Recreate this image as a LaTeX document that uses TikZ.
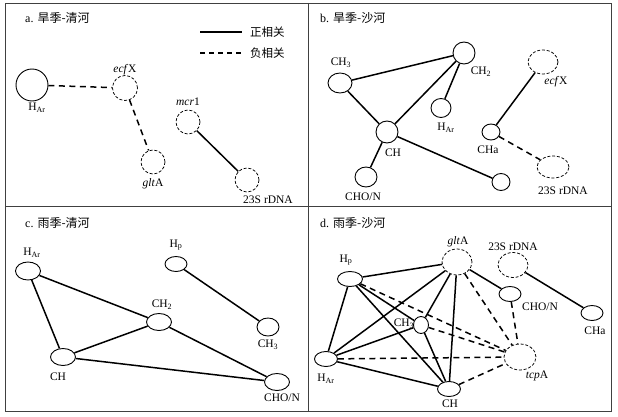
\documentclass[tikz,border=0pt]{standalone}
\usepackage{fontspec}
\setmainfont{Liberation Serif}
\newfontfamily\cjk{Noto Sans CJK SC}
\usetikzlibrary{shapes.geometric}

\begin{document}
\begin{tikzpicture}[x=1pt, y=-1pt,
    var/.style 2 args={ellipse, draw, line width=0.9pt, inner sep=0pt, minimum width=#1pt, minimum height=#2pt},
    gene/.style 2 args={var={#1}{#2}, line width=0.75pt, dash pattern=on 3pt off 1.8pt},
    poscor/.style={line width=1.5pt},
    negcor/.style={line width=1.5pt, dash pattern=on 6pt off 4.5pt},
    lbl/.style={font=\fontsize{11.5}{13}\selectfont, inner sep=0pt},
    ttl/.style={font=\fontsize{12}{14}\selectfont, anchor=west, inner sep=0pt}
]
\useasboundingbox (0,0) rectangle (618,417);

% frame
\draw[line width=0.9pt, black!75] (5,3) rectangle (611,411);
\draw[line width=0.9pt, black!75] (308,3) -- (308,411);
\draw[line width=0.9pt, black!75] (5,206) -- (611,206);

% a
\node[ttl] (ta) at (25,18) {a. {\cjk 旱季-清河}};
\coordinate (lp1) at (200,32); \coordinate (lp2) at (242,32);
\coordinate (ln1) at (200,53); \coordinate (ln2) at (242,53);
\draw[poscor] (lp1) -- (lp2);
\draw[negcor, dash pattern=on 5pt off 4pt] (ln1) -- (ln2);
\node[lbl, anchor=west] (lpos) at (250,32) {\cjk 正相关};
\node[lbl, anchor=west] (lneg) at (250,53) {\cjk 负相关};

\node[var={32}{32}] (aHAr) at (32,85) {};
\node[gene={25}{25}] (aecf) at (125,88) {};
\node[gene={24}{24}] (aglt) at (153,162) {};
\node[gene={24}{24}] (amcr) at (188,122) {};
\node[gene={24}{24}] (a23S) at (247,180) {};
\node[lbl] (laHAr) at (37,108) {H\textsubscript{Ar}};
\node[lbl] (laecf) at (125,70) {\textit{ecf}X};
\node[lbl] (laglt) at (153,184) {\textit{glt}A};
\node[lbl] (lamcr) at (188,102) {\textit{mcr}1};
\node[lbl] (la23S) at (268,200) {23S rDNA};

\draw[negcor] (aHAr) -- (aecf);
\draw[negcor] (aecf) -- (aglt);
\draw[poscor] (amcr) -- (a23S);

% b
\node[ttl] (tb) at (320,18) {b. {\cjk 旱季-沙河}};
\node[var={22}{22}] (bCH2) at (464,53) {};
\node[var={24}{20}] (bCH3) at (340,83) {};
\node[var={20}{19}] (bHAr) at (441,108) {};
\node[var={22}{22}] (bCH) at (387,132) {};
\node[var={22}{20}] (bCHO) at (366,177) {};
\node[var={18}{17}] (bX) at (501,182) {};
\node[gene={30}{24}] (becf) at (543,62) {};
\node[var={18}{16}] (bCHa) at (491,132) {};
\node[gene={32}{22}] (b23S) at (553,167) {};
\node[lbl] (lbCH2) at (481,72) {CH\textsubscript{2}};
\node[lbl] (lbCH3) at (341,63) {CH\textsubscript{3}};
\node[lbl] (lbHAr) at (446,128) {H\textsubscript{Ar}};
\node[lbl] (lbCH) at (393,153) {CH};
\node[lbl] (lbCHO) at (363,197) {CHO/N};
\node[lbl] (lbecf) at (556,82) {\textit{ecf}X};
\node[lbl] (lbCHa) at (488,150) {CHa};
\node[lbl] (lb23S) at (563,191) {23S rDNA};

\draw[poscor] (bCH3) -- (bCH2);
\draw[poscor] (bCH3) -- (bCH);
\draw[poscor] (bCH) -- (bCH2);
\draw[poscor] (bCH2) -- (bHAr);
\draw[poscor] (bCH) -- (bCHO);
\draw[poscor] (bCH) -- (bX);
\draw[poscor] (bCHa) -- (becf);
\draw[negcor] (bCHa) -- (b23S);

% c
\node[ttl] (tc) at (25,223) {c. {\cjk 雨季-清河}};
\node[var={25}{18}] (cHAr) at (28,271) {};
\node[var={22}{15}] (cHp) at (176,264) {};
\node[var={25}{17}] (cCH2) at (159,322) {};
\node[var={22}{18}] (cCH3) at (268,327) {};
\node[var={25}{17}] (cCH) at (63,357) {};
\node[var={25}{17}] (cCHO) at (277,382) {};
\node[lbl] (lcHAr) at (32,253) {H\textsubscript{Ar}};
\node[lbl] (lcHp) at (176,245) {H\textsubscript{p}};
\node[lbl] (lcCH2) at (162,305) {CH\textsubscript{2}};
\node[lbl] (lcCH3) at (268,345) {CH\textsubscript{3}};
\node[lbl] (lcCH) at (58,377) {CH};
\node[lbl] (lcCHO) at (282,398) {CHO/N};

\draw[poscor] (cHAr) -- (cCH);
\draw[poscor] (cHAr) -- (cCH2);
\draw[poscor] (cCH) -- (cCH2);
\draw[poscor] (cCH) -- (cCHO);
\draw[poscor] (cCH2) -- (cCHO);
\draw[poscor] (cHp) -- (cCH3);

% d
\node[ttl] (td) at (320,223) {d. {\cjk 雨季-沙河}};
\node[gene={30}{26}] (dglt) at (457,262) {};
\node[gene={30}{25}] (d23S) at (513,265) {};
\node[var={25}{15}] (dHp) at (350,279) {};
\node[var={22}{15}] (dCHO) at (510,294) {};
\node[var={22}{15}] (dCHa) at (592,313) {};
\node[var={15}{17}] (dCH3) at (421,325) {};
\node[var={23}{15}] (dHAr) at (326,359) {};
\node[gene={32}{26}] (dtcp) at (520,357) {};
\node[var={23}{15}] (dCH) at (449,389) {};
\node[lbl] (ldglt) at (458,242) {\textit{glt}A};
\node[lbl] (ld23S) at (513,247) {23S rDNA};
\node[lbl] (ldHp) at (346,260) {H\textsubscript{p}};
\node[lbl] (ldCHO) at (540,307) {CHO/N};
\node[lbl] (ldCHa) at (595,331) {CHa};
\node[lbl] (ldCH3) at (404,324) {CH\textsubscript{3}};
\node[lbl] (ldHAr) at (326,379) {H\textsubscript{Ar}};
\node[lbl] (ldtcp) at (537,376) {\textit{tcp}A};
\node[lbl] (ldCH) at (450,404) {CH};

\draw[poscor] (dHp) -- (dglt);
\draw[poscor] (dHp) -- (dHAr);
\draw[poscor] (dHp) -- (dCH3);
\draw[poscor] (dHp) -- (dCH);
\draw[poscor] (dglt) -- (dHAr);
\draw[poscor] (dglt) -- (dCH3);
\draw[poscor] (dglt) -- (dCH);
\draw[poscor] (dglt) -- (dCHO);
\draw[poscor] (dCH3) -- (dHAr);
\draw[poscor] (dCH3) -- (dCH);
\draw[poscor] (dHAr) -- (dCH);
\draw[poscor] (d23S) -- (dCHa);
\draw[negcor] (dHp) -- (dtcp);
\draw[negcor] (dglt) -- (dtcp);
\draw[negcor] (dCH3) -- (dtcp);
\draw[negcor] (dHAr) -- (dtcp);
\draw[negcor] (dCH) -- (dtcp);
\draw[negcor] (dCHO) -- (dtcp);

\end{tikzpicture}
\end{document}
